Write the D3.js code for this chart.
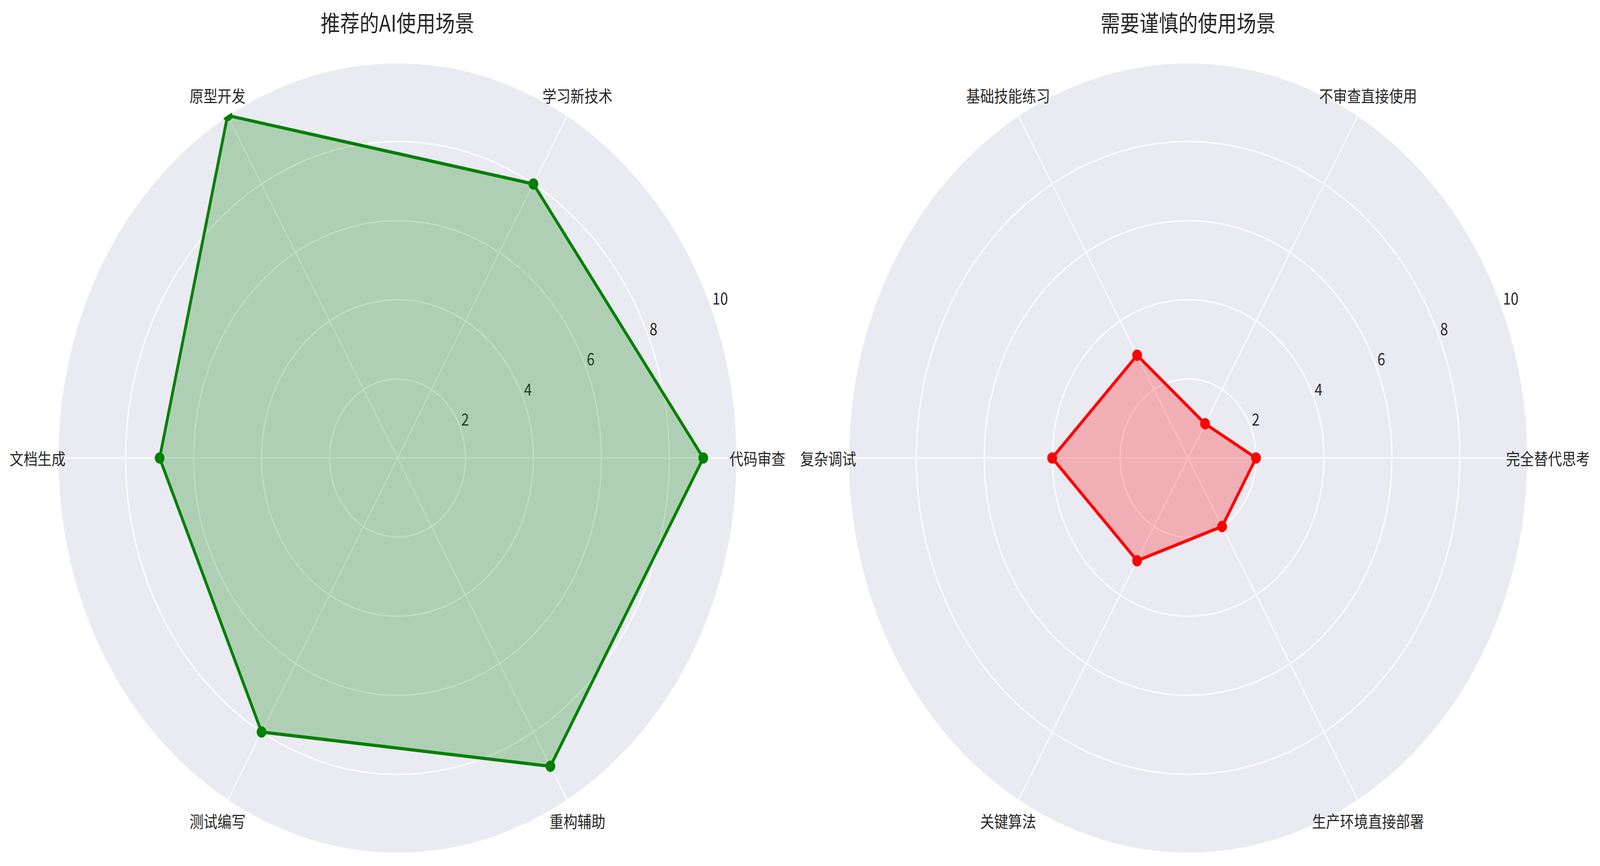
<!DOCTYPE html>
<html>
<head>
<meta charset="utf-8">
<script src="https://cdn.jsdelivr.net/npm/d3@7"></script>
<style>
    html, body { margin: 0; padding: 0; background: #fff; overflow: hidden; }
    svg { display: block; }
    text { font-family: "Noto Sans CJK SC", "Noto Sans", sans-serif; fill: #262626; }
</style>
</head>
<body>
<script>
const width = 4770, height = 2218;

// chart data
const goodCategories = ["代码审查", "学习新技术", "原型开发", "文档生成", "测试编写", "重构辅助"];
const goodValues = [9, 8, 10, 7, 8, 9];
const cautionCategories = ["完全替代思考", "不审查直接使用", "基础技能练习", "复杂调试", "关键算法", "生产环境直接部署"];
const cautionValues = [2, 1, 3, 4, 3, 2];
const radialTicks = [2, 4, 6, 8, 10];
const titles = ["推荐的AI使用场景", "需要谨慎的使用场景"];

const R = 1013, cy = 1173;

// the window may have a device pixel ratio, so draw in a fixed viewBox
const svg = d3.select("body")
    .append("svg")
    .attr("viewBox", `0 0 ${width} ${height}`)
    .attr("preserveAspectRatio", "none")
    .style("width", "100vw")
    .style("height", "100vh")

const rScale = d3.scaleLinear().domain([0, 10]).range([0, R])

function drawRadar(cx, title, categories, values, color, id) {
    const n = categories.length
    // matplotlib angles: 0 at 3 o'clock, counter clockwise
    const theta = d3.scaleLinear().domain([0, n]).range([0, 2 * Math.PI])
    const px = (i, v) => rScale(v) * Math.cos(theta(i))
    const py = (i, v) => -rScale(v) * Math.sin(theta(i))

    const g = svg.append("g").attr("transform", `translate(${cx},${cy})`)

    svg.append("text")
        .attr("x", cx)
        .attr("y", 56)
        .attr("text-anchor", "middle")
        .attr("dominant-baseline", "central")
        .style("font-size", "58px")
        .text(title)

    g.append("clipPath").attr("id", "clip" + id)
        .append("circle").attr("r", R)

    g.append("circle").attr("r", R).attr("fill", "#EAEAF2")

    // rings
    g.selectAll(".ring")
        .data(radialTicks.slice(0, -1))
        .enter()
        .append("circle")
        .attr("class", "ring")
        .attr("r", d => rScale(d))
        .attr("fill", "none")
        .attr("stroke", "#fff")
        .attr("stroke-width", 3.5)

    // spokes
    g.selectAll(".spoke")
        .data(categories)
        .enter()
        .append("line")
        .attr("class", "spoke")
        .attr("x1", 0).attr("y1", 0)
        .attr("x2", (d, i) => px(i, 10))
        .attr("y2", (d, i) => py(i, 10))
        .attr("stroke", "#fff")
        .attr("stroke-width", 3)

    g.append("circle").attr("r", R).attr("fill", "none")
        .attr("stroke", "#fff").attr("stroke-width", 5)

    // radial tick labels at 22.5 degrees
    const a = 22.5 * Math.PI / 180
    g.selectAll(".rtick")
        .data(radialTicks)
        .enter()
        .append("text")
        .attr("class", "rtick")
        .attr("x", d => rScale(d) * Math.cos(a) + 3)
        .attr("y", d => -rScale(d) * Math.sin(a) - 5)
        .style("font-size", "41.7px")
        .text(d => d)

    // category labels
    g.selectAll(".cat")
        .data(categories)
        .enter()
        .append("text")
        .attr("class", "cat")
        .attr("x", (d, i) => (R + 60) * Math.cos(theta(i)))
        .attr("y", (d, i) => -(R + 60) * Math.sin(theta(i)))
        .attr("text-anchor", "middle")
        .attr("dominant-baseline", "central")
        .style("font-size", "41.7px")
        .text(d => d)

    const line = d3.lineRadial()
        .angle((d, i) => Math.PI / 2 - theta(i))
        .radius(d => rScale(d))
        .curve(d3.curveLinearClosed)

    const data = g.append("g").attr("clip-path", `url(#clip${id})`)

    data.append("path")
        .attr("d", line(values))
        .attr("fill", color)
        .attr("fill-opacity", 0.25)
        .attr("stroke", "none")

    data.append("path")
        .attr("d", line(values))
        .attr("fill", "none")
        .attr("stroke", color)
        .attr("stroke-width", 8.3)
        .attr("stroke-linejoin", "round")

    data.selectAll(".dot")
        .data(values)
        .enter()
        .append("circle")
        .attr("class", "dot")
        .attr("cx", (d, i) => px(i, d))
        .attr("cy", (d, i) => py(i, d))
        .attr("r", 14.5)
        .attr("fill", color)
}

drawRadar(1185, titles[0], goodCategories, goodValues, "#008000", "L")
drawRadar(3542, titles[1], cautionCategories, cautionValues, "#FF0000", "R")
</script>
</body>
</html>
